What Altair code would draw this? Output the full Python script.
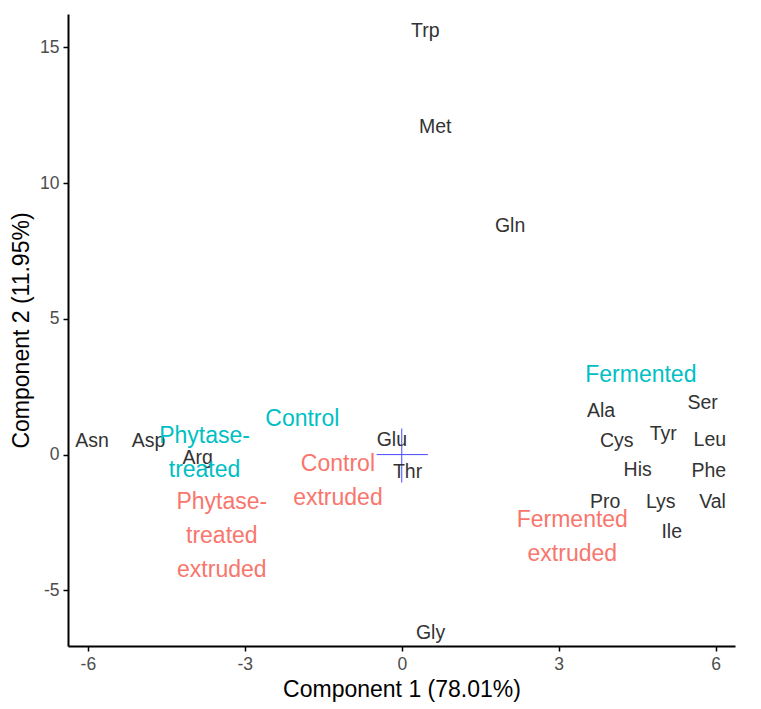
import altair as alt
import pandas as pd

# Amino acid loadings (text labels)
aa_names = ["Trp", "Met", "Gln", "Asn", "Asp", "Arg", "Glu", "Thr", "Gly",
            "Ala", "Ser", "Cys", "Tyr", "Leu", "His", "Phe", "Pro", "Lys", "Val", "Ile"]
aa_x = [0.45, 0.64, 2.07, -5.92, -4.84, -3.90, -0.19, 0.11, 0.55,
        3.81, 5.75, 4.11, 5.00, 5.89, 4.51, 5.87, 3.89, 4.95, 5.94, 5.16]
aa_y = [15.6, 12.06, 8.42, 0.51, 0.51, -0.11, 0.55, -0.63, -6.58,
        1.62, 1.89, 0.51, 0.77, 0.53, -0.57, -0.59, -1.73, -1.73, -1.73, -2.85]

# Sample groups
grp_names = ["Fermented", "Control", "Phytase-\ntreated",
             "Control\nextruded", "Phytase-\ntreated\nextruded", "Fermented\nextruded"]
grp_x = [4.57, -1.90, -3.77, -1.22, -3.44, 3.26]
grp_y = [2.94, 1.32, 0.07, -0.96, -3.0, -3.05]
grp_type = ["raw", "raw", "raw", "extruded", "extruded", "extruded"]

# Origin cross
cross_h_x = [-0.48, 0.50]
cross_v_y = [0.96, -1.03]

x_domain = [-6.38, 6.37]
y_domain = [-7.05, 16.23]

FONT = "Liberation Sans"
LINE_H = 34

aa_df = pd.DataFrame({"name": aa_names, "x": aa_x, "y": aa_y})
grp_df = pd.DataFrame({"name": grp_names, "x": grp_x, "y": grp_y, "type": grp_type})
grp_df["nlines"] = grp_df["name"].str.count("\n") + 1
hdf = pd.DataFrame({"x": [cross_h_x[0]], "x2": [cross_h_x[1]], "y": [0.0]})
vdf = pd.DataFrame({"y": [cross_v_y[0]], "y2": [cross_v_y[1]], "x": [0.0]})

xscale = alt.Scale(domain=x_domain, nice=False, zero=False)
yscale = alt.Scale(domain=y_domain, nice=False, zero=False)

xaxis = alt.Axis(values=[-6, -3, 0, 3, 6], title="Component 1 (78.01%)", grid=False,
                 labelExpr="'' + datum.value")
yaxis = alt.Axis(values=[-5, 0, 5, 10, 15], title="Component 2 (11.95%)", grid=False,
                 labelExpr="'' + datum.value")

aa_layer = alt.Chart(aa_df).mark_text(
    font=FONT, fontSize=19.5, color="#333333", baseline="middle", align="center"
).encode(
    x=alt.X("x:Q", scale=xscale, axis=xaxis),
    y=alt.Y("y:Q", scale=yscale, axis=yaxis),
    text="name:N",
)

color_enc = alt.Color("type:N", scale=alt.Scale(domain=["raw", "extruded"],
                                                range=["#00BFC4", "#F8766D"]), legend=None)

grp_layers = []
for n in sorted(grp_df["nlines"].unique()):
    grp_layers.append(
        alt.Chart(grp_df[grp_df["nlines"] == n]).mark_text(
            font=FONT, fontSize=23, baseline="middle", align="center",
            lineBreak="\n", lineHeight=LINE_H, dy=-(int(n) - 1) * LINE_H / 2
        ).encode(
            x=alt.X("x:Q", scale=xscale),
            y=alt.Y("y:Q", scale=yscale),
            text="name:N",
            color=color_enc,
        )
    )

h_rule = alt.Chart(hdf).mark_rule(color="#4848FF", strokeWidth=1).encode(
    x=alt.X("x:Q", scale=xscale), x2="x2:Q", y=alt.Y("y:Q", scale=yscale)
)
v_rule = alt.Chart(vdf).mark_rule(color="#4848FF", strokeWidth=1).encode(
    y=alt.Y("y:Q", scale=yscale), y2="y2:Q", x=alt.X("x:Q", scale=xscale)
)

chart = alt.layer(h_rule, v_rule, aa_layer, *grp_layers).properties(
    width=667, height=632,
    autosize=alt.AutoSizeParams(type="none"),
    padding={"left": 60, "top": 6, "right": 18, "bottom": 60},
).configure_view(stroke=None).configure_axis(
    domainColor="black", domainWidth=2, tickColor="black", tickWidth=1.5, tickSize=5,
    labelFont=FONT, labelFontSize=17.5, labelColor="#4D4D4D", labelPadding=4,
    titleFont=FONT, titleFontSize=23, titleColor="black", titleFontWeight="normal",
).configure_axisX(titlePadding=6).configure_axisY(titlePadding=6)

chart.save("out.html", embed_options={"renderer": "svg", "actions": False})
